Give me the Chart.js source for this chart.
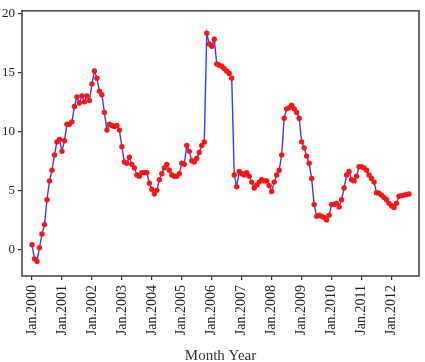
<!DOCTYPE html>
<html>
<head>
<meta charset="utf-8">
<script src="https://cdn.jsdelivr.net/npm/chart.js@4.4.1/dist/chart.umd.min.js"></script>
<style>
  html, body { margin: 0; padding: 0; background: #ffffff; }
  #c { display: block; }
</style>
</head>
<body>
<canvas id="c" width="425" height="362"></canvas>
<script>
// Tick labels (one per January)
const tickLabels = ["Jan.2000","Jan.2001","Jan.2002","Jan.2003","Jan.2004","Jan.2005","Jan.2006",
                    "Jan.2007","Jan.2008","Jan.2009","Jan.2010","Jan.2011","Jan.2012"];
// Monthly values, Jan 2000 .. Aug 2012
const values2000 = [0.4, -0.8, -1.0, 0.15, 1.3, 2.1, 4.2, 5.8, 6.7, 8.0, 9.1, 9.3];
const values2001 = [8.3, 9.2, 10.6, 10.6, 10.8, 12.1, 12.9, 12.4, 13.0, 12.5, 13.0, 12.6];
const values2002 = [14.0, 15.1, 14.5, 13.4, 13.1, 11.6, 10.1, 10.6, 10.5, 10.4, 10.5, 10.1];
const values2003 = [8.7, 7.4, 7.3, 7.8, 7.2, 6.9, 6.3, 6.2, 6.5, 6.5, 6.5, 5.6];
const values2004 = [5.1, 4.7, 5.0, 5.9, 6.4, 6.9, 7.2, 6.7, 6.3, 6.2, 6.2, 6.4];
const values2005 = [7.3, 7.2, 8.8, 8.3, 7.5, 7.4, 7.7, 8.2, 8.8, 9.1, 18.3, 17.4];
const values2006 = [17.2, 17.8, 15.7, 15.6, 15.5, 15.3, 15.1, 14.9, 14.5, 6.3, 5.3, 6.6];
const values2007 = [6.4, 6.3, 6.5, 6.2, 5.7, 5.2, 5.45, 5.7, 5.9, 5.8, 5.8, 5.4];
const values2008 = [4.9, 5.7, 6.3, 6.7, 8.0, 11.1, 11.9, 12.0, 12.2, 11.9, 11.6, 11.1];
const values2009 = [9.1, 8.6, 7.9, 7.3, 6.0, 3.8, 2.8, 2.9, 2.8, 2.7, 2.5, 2.9];
const values2010 = [3.8, 3.8, 3.9, 3.6, 4.2, 5.2, 6.3, 6.6, 5.9, 5.8, 6.2, 7.0];
const values2011 = [7.0, 6.9, 6.7, 6.3, 6.0, 5.7, 4.8, 4.75, 4.6, 4.4, 4.2, 3.9];
const values2012 = [3.7, 3.55, 3.9, 4.5, 4.55, 4.6, 4.65, 4.7];
const yTicks = [0, 5, 10, 15, 20];

const values = [].concat(values2000, values2001, values2002, values2003, values2004,
  values2005, values2006, values2007, values2008, values2009, values2010, values2011, values2012);
const points = values.map((v, i) => ({ x: i, y: v }));

const frame = {
  id: 'frame',
  afterDraw(chart) {
    const { ctx, chartArea: a } = chart;
    ctx.save();
    ctx.strokeStyle = '#4a4a4a';
    ctx.lineWidth = 1.6;
    ctx.strokeRect(a.left, a.top, a.right - a.left, a.bottom - a.top);
    ctx.restore();
  }
};

new Chart(document.getElementById('c'), {
  type: 'line',
  data: {
    datasets: [{
      data: points,
      borderColor: '#3a3aff',
      borderWidth: 1.4,
      pointBackgroundColor: '#ff1414',
      pointBorderColor: '#ff1414',
      pointBorderWidth: 0,
      pointRadius: 2.7,
      tension: 0,
      fill: false
    }]
  },
  options: {
    responsive: false,
    animation: false,
    devicePixelRatio: 1,
    layout: { padding: { top: 7, right: 6, left: 0, bottom: 0 } },
    plugins: { legend: { display: false }, tooltip: { enabled: false } },
    scales: {
      x: {
        type: 'linear',
        min: -4,
        max: 155,
        afterBuildTicks(scale) { scale.ticks = tickLabels.map((_, i) => ({ value: i * 12 })); },
        afterFit(scale) { scale.height = 86; },
        grid: { drawOnChartArea: false, drawTicks: true, tickLength: 4, color: '#333', lineWidth: 1.2 },
        border: { display: false },
        ticks: {
          autoSkip: false,
          minRotation: 90,
          maxRotation: 90,
          padding: 5,
          color: '#222',
          font: { family: 'Liberation Serif', size: 14 },
          callback: (v) => tickLabels[Math.round(v / 12)]
        },
        title: {
          display: true,
          text: 'Month Year',
          color: '#333',
          font: { family: 'Liberation Serif', size: 15, lineHeight: 0.8 },
          padding: { top: 0, bottom: 0 }
        }
      },
      y: {
        min: -2.25,
        max: 20.2,
        afterBuildTicks(scale) { scale.ticks = yTicks.map(v => ({ value: v })); },
        afterFit(scale) { scale.width = 22; },
        grid: { drawOnChartArea: false, drawTicks: true, tickLength: 4, color: '#333', lineWidth: 1.2 },
        border: { display: false },
        ticks: {
          padding: 3,
          color: '#222',
          font: { family: 'Liberation Serif', size: 13 }
        }
      }
    }
  },
  plugins: [frame]
});
</script>
</body>
</html>
